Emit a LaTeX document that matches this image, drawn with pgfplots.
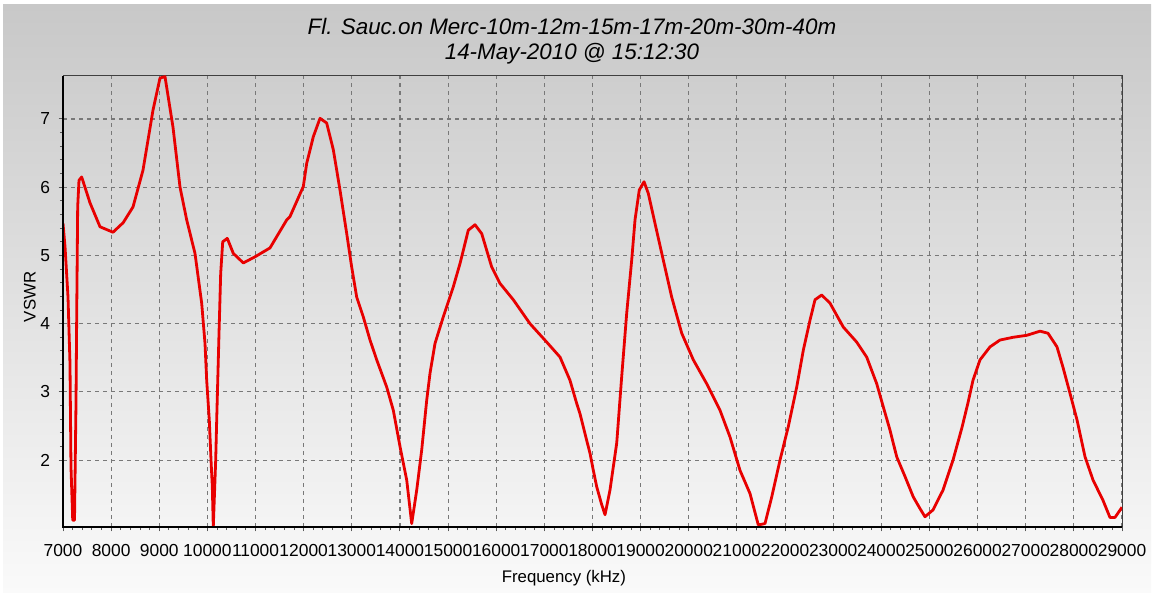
\documentclass[border=0pt]{standalone}
\usepackage{pgfplots}
\pgfplotsset{compat=1.18}
\usepackage{fontspec}
\setmainfont{Liberation Sans}
\definecolor{bgtop}{RGB}{200,200,200}
\definecolor{bgbot}{RGB}{250,250,250}
\definecolor{gridc}{RGB}{120,120,120}
\definecolor{curve}{RGB}{232,0,0}
\begin{document}
\begin{tikzpicture}
\fill[white] (0,0) rectangle (577pt,296.5pt);
\shade[top color=bgtop, bottom color=bgbot] (1.5pt,0) rectangle (575.5pt,294pt);
\node[anchor=base, font=\fontsize{11.2}{12}\selectfont\itshape] at (286pt,279pt) {Fl. Sauc.on Merc-10m-12m-15m-17m-20m-30m-40m};
\node[anchor=base, font=\fontsize{11.2}{12}\selectfont\itshape] at (286pt,266.5pt) {14-May-2010 @ 15:12:30};
\begin{axis}[name=ax, at={(31.5pt,33pt)}, anchor=south west,
  scale only axis, width=529.5pt, height=225.5pt,
  xmin=7000, xmax=29000, ymin=1.02, ymax=7.63,
  xtick={7000,8000,...,29000}, ytick={2,3,4,5,6,7},
  minor x tick num=4, minor y tick num=4,
  tick align=outside, xtick pos=bottom, ytick pos=left,
  major tick length=2.2pt, minor tick length=1.6pt,
  tick style={draw=black!65, line width=0.5pt},
  xmajorgrids, ymajorgrids,
  major grid style={gridc, dash pattern=on 2pt off 2pt, line width=0.55pt},
  axis line style={draw=black!75, line width=0.5pt},
  scaled x ticks=false,
  /pgf/number format/1000 sep={},
  /pgf/number format/assume math mode=true,
  tick label style={font=\fontsize{8.7}{9}\selectfont},
  xticklabel style={yshift=-2.8pt},
  yticklabel style={xshift=-0.8pt},
  label style={font=\fontsize{8.4}{9}\selectfont},
  xlabel={Frequency (kHz)}, ylabel={VSWR},
  xlabel style={at={(axis description cs:0.473,-0.113)}, anchor=center},
  ylabel style={at={(axis description cs:-0.0312,0.51)}, anchor=center},
]
\addplot[curve, line width=1.4pt, line join=round] table {
x y
7000 5.47
7042 5.13
7104 4.39
7145 3.42
7166 1.90
7202 1.12
7239 1.12
7270 2.84
7285 4.15
7305 5.71
7332 6.10
7388 6.15
7561 5.77
7769 5.42
8039 5.34
8250 5.48
8454 5.71
8662 6.25
8870 7.13
9015 7.60
9119 7.62
9285 6.88
9431 6.00
9570 5.52
9742 5.03
9881 4.30
9950 3.71
9985 3.17
10039 2.59
10075 2.00
10102 1.61
10122 1.02
10172 2.00
10193 2.59
10241 3.86
10276 4.74
10318 5.20
10413 5.25
10538 5.03
10746 4.89
10989 4.98
11300 5.11
11647 5.52
11716 5.57
11992 6.01
12063 6.35
12200 6.74
12339 7.01
12478 6.94
12615 6.55
12754 5.96
12894 5.32
12997 4.83
13101 4.39
13238 4.10
13378 3.76
13517 3.47
13725 3.07
13862 2.73
14001 2.20
14140 1.71
14244 1.07
14348 1.56
14452 2.15
14556 2.88
14624 3.27
14728 3.71
14900 4.10
15108 4.54
15247 4.88
15420 5.37
15559 5.45
15698 5.32
15906 4.83
16078 4.59
16355 4.35
16701 4.00
17048 3.73
17325 3.51
17532 3.17
17672 2.83
17740 2.68
17879 2.29
17948 2.10
18017 1.85
18087 1.61
18190 1.35
18260 1.20
18363 1.56
18503 2.25
18606 3.22
18710 4.15
18814 4.93
18883 5.52
18972 5.96
19070 6.08
19159 5.91
19298 5.47
19471 4.93
19645 4.39
19853 3.86
20094 3.47
20372 3.12
20649 2.73
20856 2.34
21064 1.85
21272 1.51
21444 1.05
21583 1.07
21723 1.46
21895 2.00
22067 2.49
22242 3.07
22379 3.61
22518 4.05
22622 4.35
22761 4.42
22934 4.30
23210 3.95
23488 3.73
23696 3.51
23904 3.12
24041 2.78
24180 2.44
24319 2.05
24492 1.76
24664 1.46
24803 1.29
24907 1.17
25073 1.27
25281 1.56
25489 2.00
25676 2.48
25800 2.84
25904 3.17
26050 3.47
26258 3.66
26465 3.76
26735 3.80
27026 3.83
27296 3.89
27462 3.86
27649 3.66
27774 3.36
27919 2.98
28065 2.59
28231 2.05
28397 1.71
28605 1.41
28750 1.16
28854 1.16
29000 1.31
};
\end{axis}
\draw[black, line width=1.3pt] (ax.north west) -- (ax.south west) -- (ax.south east);
\pgfresetboundingbox
\useasboundingbox (0,0) rectangle (577pt,296.5pt);
\end{tikzpicture}
\end{document}
